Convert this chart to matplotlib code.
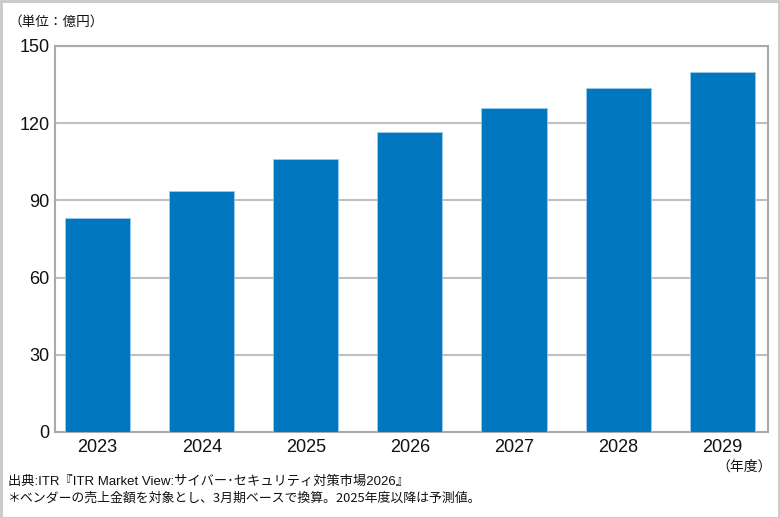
import matplotlib
matplotlib.use("Agg")
import matplotlib.pyplot as plt
from matplotlib.patches import Rectangle

years = ["2023", "2024", "2025", "2026", "2027", "2028", "2029"]
values = [83.3, 93.6, 106.0, 116.6, 125.8, 133.6, 139.8]
yticks = [0, 30, 60, 90, 120, 150]

unit_label = "（単位：億円）"
x_unit_label = "（年度）"
source_text = "出典:ITR『ITR Market View:サイバー･セキュリティ対策市場2026』"
note_text = "＊ベンダーの売上金額を対象とし、3月期ベースで換算。2025年度以降は予測値。"

FAM = ["Liberation Sans", "Noto Sans CJK JP", "DejaVu Sans"]
plt.rcParams["font.family"] = FAM

fig = plt.figure(figsize=(7.8, 5.18), dpi=100)
ax = fig.add_axes([55/780, 1-432/518, (768-55)/780, (432-46)/518])

x = list(range(len(years)))
ax.bar(x, values, width=0.625, color="#0077BF", edgecolor="#9ccbea",
       linewidth=0.6, zorder=3)

ax.set_xlim(-0.41, 6.44)
ax.set_ylim(0, 150)
ax.set_yticks(yticks)
ax.set_yticklabels([str(v) for v in yticks], fontsize=13)
ax.set_xticks(x)
ax.set_xticklabels(years, fontsize=13)
ax.tick_params(axis="both", length=0, colors="#111111")
ax.tick_params(axis="y", pad=4)
ax.tick_params(axis="x", pad=5)
ax.yaxis.grid(True, color="#bfbfbf", linewidth=1.5, zorder=0)
ax.set_axisbelow(True)
for s in ax.spines.values():
    s.set_color("#aaaaaa")
    s.set_linewidth(1.5)

fig.text(8/780, 1-22/518, unit_label, fontsize=9.8, ha="left", va="center",
         family=["Noto Sans CJK JP", "DejaVu Sans"], color="#111111")
fig.text(772/780, 1-467/518, x_unit_label, fontsize=10, ha="right", va="center",
         family=["Noto Sans CJK JP", "DejaVu Sans"], color="#111111")
fig.text(8/780, 1-482/518, source_text, fontsize=9.5, ha="left", va="center",
         family=FAM, color="#111111")
fig.text(8/780, 1-498/518, note_text, fontsize=9.3, ha="left", va="center",
         family=["Noto Sans CJK JP", "DejaVu Sans"], color="#111111")

fig.patches.append(Rectangle((0.5/780, 0.5/518), 1-1.5/780, 1-1.5/518,
                             transform=fig.transFigure, fill=False,
                             edgecolor="#c8c8c8", linewidth=2))

fig.savefig("out.png", dpi=100)
